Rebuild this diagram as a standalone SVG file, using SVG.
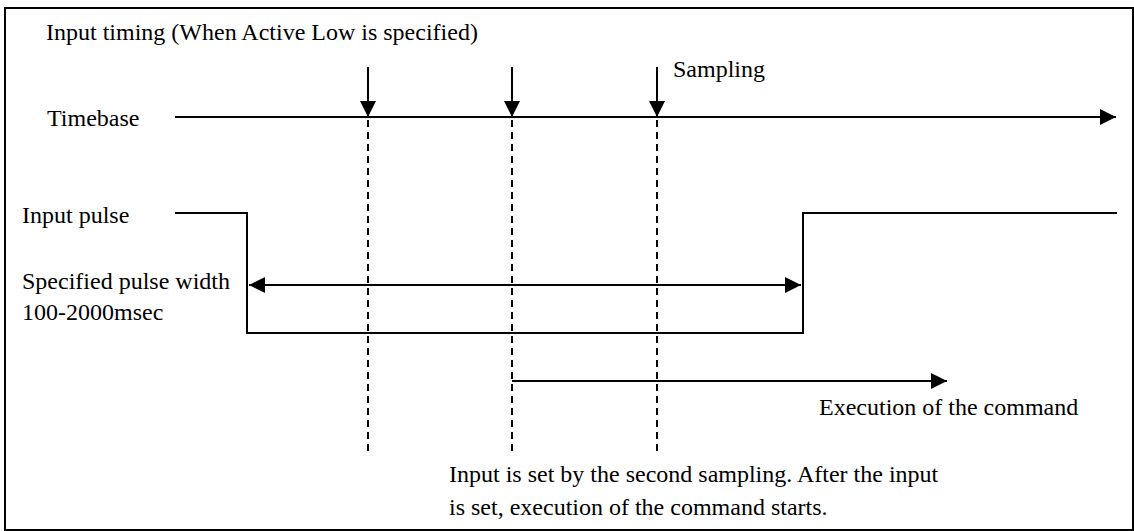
<svg xmlns="http://www.w3.org/2000/svg" width="1134" height="531" viewBox="0 0 1134 531">
  <style>
    .txt { font-family: "Liberation Serif", "Times New Roman", serif; font-size: 24px; fill: #000; }
    .ln { stroke: #000; stroke-width: 2; fill: none; }
    .dash { stroke: #000; stroke-width: 2; stroke-dasharray: 7 5; fill: none; }
  </style>
  <defs>
    <marker id="head" markerUnits="userSpaceOnUse" markerWidth="16" markerHeight="16" refX="16" refY="8" orient="auto-start-reverse">
      <path d="M0,0 L16,8 L0,16 z" fill="#000"/>
    </marker>
  </defs>

  <!-- frame -->
  <rect x="5" y="8" width="1128" height="522" fill="#fff" stroke="#000" stroke-width="2"/>

  <!-- labels -->
  <g id="title"><text class="txt" x="46" y="40">Input timing (When Active Low is specified)</text></g>
  <g id="timebase-label"><text class="txt" x="47" y="126">Timebase</text></g>
  <g id="sampling-label"><text class="txt" x="673" y="77">Sampling</text></g>
  <g id="pulse-label"><text class="txt" x="22" y="223">Input pulse</text></g>
  <g id="width-label">
    <text class="txt" x="22" y="289">Specified pulse width</text>
    <text class="txt" x="22" y="320">100-2000msec</text>
  </g>
  <g id="exec-label"><text class="txt" x="819" y="415">Execution of the command</text></g>
  <g id="note">
    <text class="txt" x="449" y="482">Input is set by the second sampling. After the input</text>
    <text class="txt" x="449" y="515">is set, execution of the command starts.</text>
  </g>

  <!-- input pulse waveform -->
  <g id="pulse">
    <polyline class="ln" points="175,213 247,213 247,333 803,333 803,213 1117,213"/>
  </g>

  <g id="connectors">
    <!-- time axis -->
    <line class="ln" x1="175" y1="117" x2="1116" y2="117" marker-end="url(#head)"/>
    <!-- sampling instants -->
    <line class="ln" x1="368" y1="67" x2="368" y2="117" marker-end="url(#head)"/>
    <line class="ln" x1="512" y1="67" x2="512" y2="117" marker-end="url(#head)"/>
    <line class="ln" x1="657" y1="67" x2="657" y2="117" marker-end="url(#head)"/>
    <!-- sampling guides -->
    <line class="dash" x1="368" y1="120" x2="368" y2="453"/>
    <line class="dash" x1="512" y1="120" x2="512" y2="453"/>
    <line class="dash" x1="657" y1="120" x2="657" y2="453"/>
    <!-- pulse width span -->
    <line class="ln" x1="249" y1="285" x2="801" y2="285" marker-start="url(#head)" marker-end="url(#head)"/>
    <!-- command execution -->
    <line class="ln" x1="512" y1="381" x2="947" y2="381" marker-end="url(#head)"/>
  </g>
</svg>
